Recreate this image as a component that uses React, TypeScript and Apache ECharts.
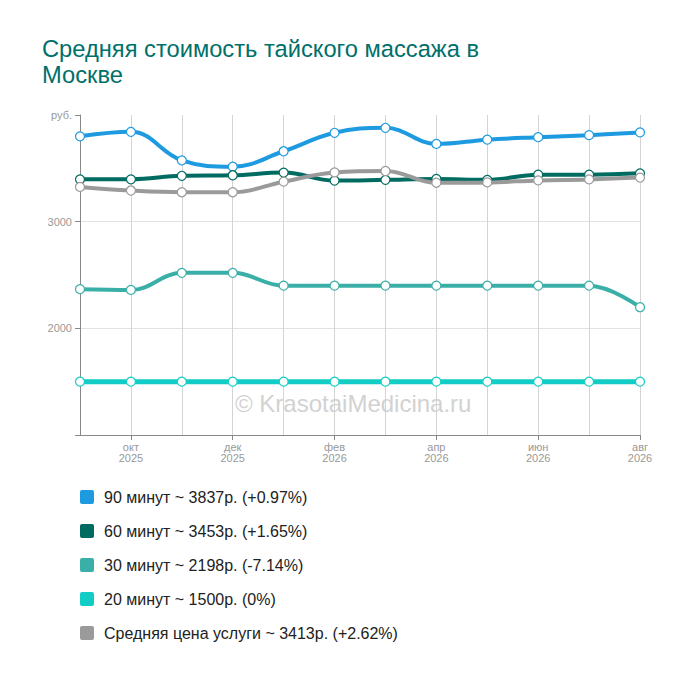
import React, { useEffect, useRef } from 'react';
import * as echarts from 'echarts';

const months = ['сен', 'окт', 'ноя', 'дек', 'янв', 'фев', 'мар', 'апр', 'май', 'июн', 'июл', 'авг'];
const years = ['2025', '2025', '2025', '2025', '2026', '2026', '2026', '2026', '2026', '2026', '2026', '2026'];

const min90 = [3800, 3842, 3575, 3515, 3660, 3833, 3880, 3729, 3769, 3792, 3811, 3837];
const min60 = [3397, 3397, 3430, 3435, 3460, 3385, 3392, 3400, 3392, 3440, 3440, 3453];
const min30 = [2367, 2360, 2520, 2520, 2400, 2400, 2400, 2400, 2400, 2400, 2400, 2198];
const min20 = [1500, 1500, 1500, 1500, 1500, 1500, 1500, 1500, 1500, 1500, 1500, 1500];
const avgPrice = [3326, 3292, 3276, 3276, 3375, 3462, 3475, 3365, 3368, 3387, 3396, 3413];

const yTicks = [1000, 2000, 3000, 4000];

// подпись легенды: последнее значение и изменение к первому месяцу
const legendName = (label: string, data: number[]) => {
  const last = data[data.length - 1];
  const pct = Math.round((last / data[0] - 1) * 10000) / 100;
  return `${label} ~ ${last}р. (${pct > 0 ? '+' : ''}${pct}%)`;
};

const seriesDefs = [
  { label: '90 минут', data: min90, color: '#1e9be0', width: 4 },
  { label: '60 минут', data: min60, color: '#006b60', width: 4 },
  { label: '30 минут', data: min30, color: '#3aafa7', width: 4 },
  { label: '20 минут', data: min20, color: '#12cdc6', width: 5 },
  { label: 'Средняя цена услуги', data: avgPrice, color: '#9a9a9a', width: 4 },
];

const font = 'Liberation Sans, Arial, sans-serif';
const squareIcon = 'path://M2,0H12Q14,0 14,2V12Q14,14 12,14H2Q0,14 0,12V2Q0,0 2,0Z';

const App = () => {
  const chartRef = useRef(null);

  useEffect(() => {
    document.body.style.margin = '0';
    const chart = echarts.init(chartRef.current, null, { renderer: 'svg' });

    const options = {
      animation: false,
      title: {
        text: 'Средняя стоимость тайского массажа в\nМоскве',
        left: 37,
        top: 31,
        textStyle: {
          color: '#00706a',
          fontSize: 23.7,
          fontWeight: 'normal',
          fontFamily: font,
          lineHeight: 26,
        },
      },
      graphic: [
        {
          type: 'text',
          left: 235,
          top: 391,
          z: 0,
          style: {
            text: '© KrasotaiMedicina.ru',
            fontSize: 24,
            fontFamily: font,
            fill: '#d2d2d2',
          },
        },
      ],
      grid: {
        left: 80,
        right: 60,
        top: 115,
        bottom: 245,
        containLabel: false,
      },
      legend: {
        orient: 'vertical',
        left: 80,
        top: 489,
        padding: 0,
        itemWidth: 14,
        itemHeight: 14,
        itemGap: 18,
        data: seriesDefs.map((s) => ({
          name: legendName(s.label, s.data),
          icon: squareIcon,
          itemStyle: { color: s.color, borderWidth: 0 },
        })),
        textStyle: {
          fontSize: 16,
          color: '#222',
          lineHeight: 14,
          padding: [0, 0, 0, 5],
          fontFamily: font,
        },
      },
      xAxis: {
        type: 'category',
        boundaryGap: false,
        data: months.map((m, i) => `${m}\n${years[i]}`),
        axisLine: { lineStyle: { color: '#888' } },
        axisTick: {
          length: 5,
          interval: (i: number) => i % 2 === 1,
          lineStyle: { color: '#888' },
        },
        axisLabel: {
          interval: (i: number) => i % 2 === 1,
          color: '#999',
          fontSize: 11,
          lineHeight: 11,
          margin: 6,
          fontFamily: font,
        },
        splitLine: {
          show: true,
          interval: 0,
          lineStyle: { color: '#d4d4d4' },
        },
      },
      yAxis: {
        type: 'value',
        min: yTicks[0],
        max: yTicks[yTicks.length - 1],
        interval: 1000,
        axisLine: { show: true, lineStyle: { color: '#888' } },
        axisTick: { show: true, length: 5, lineStyle: { color: '#888' } },
        axisLabel: {
          color: '#999',
          fontSize: 11,
          margin: 8,
          fontFamily: font,
          formatter: (v: number) => (v === 4000 ? 'руб.' : v === 1000 ? '' : String(v)),
        },
        splitLine: {
          show: true,
          lineStyle: { color: ['transparent', '#e2e2e2', '#e2e2e2', 'transparent'] },
        },
      },
      series: seriesDefs.map((s) => ({
        name: legendName(s.label, s.data),
        type: 'line',
        data: s.data,
        smooth: 0.4,
        symbol: 'circle',
        symbolSize: 9,
        z: 3,
        itemStyle: { color: '#fff', borderColor: s.color, borderWidth: 1.2 },
        lineStyle: { color: s.color, width: s.width },
        color: s.color,
      })),
    };

    chart.setOption(options);

    return () => {
      chart.dispose();
    };
  }, []);

  return <div ref={chartRef} style={{ width: '700px', height: '680px' }}></div>;
};

export default App;
